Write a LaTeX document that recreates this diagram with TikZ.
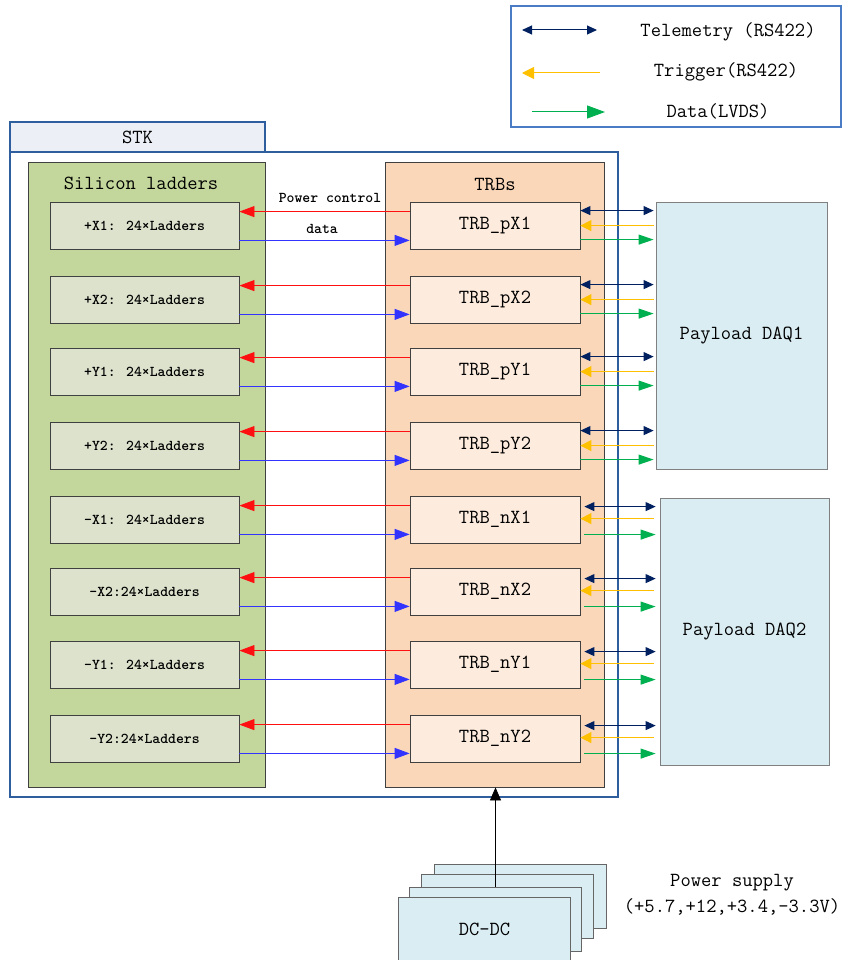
\documentclass[tikz,border=0pt]{standalone}
\usepackage{fontspec}
\usetikzlibrary{arrows.meta,calc}
\definecolor{stkblue}{HTML}{2E5E9E}
\definecolor{legblue}{HTML}{4A7CC6}
\definecolor{tabfill}{HTML}{ECF0F6}
\definecolor{silfill}{HTML}{C3D69B}
\definecolor{ladfill}{HTML}{DCE2CC}
\definecolor{trbsfill}{HTML}{FAD7B9}
\definecolor{trbfill}{HTML}{FDEBDD}
\definecolor{daqfill}{HTML}{DAEDF3}
\definecolor{boxgray}{HTML}{404040}
\definecolor{navy}{HTML}{002060}
\definecolor{trigyellow}{HTML}{FFC000}
\definecolor{lvdsgreen}{HTML}{00B050}
\definecolor{datblue}{HTML}{3333FF}
\definecolor{pwrred}{HTML}{FF1010}
\begin{document}
\begin{tikzpicture}[x=1pt,y=-1pt,
  every node/.style={font=\ttfamily\fontsize{20}{24}\selectfont, inner sep=0pt},
  box/.style={draw=boxgray, line width=0.8pt},
  ladder/.style={box, fill=ladfill, minimum width=189pt, minimum height=47pt,
     font=\ttfamily\bfseries\fontsize{15}{18}\selectfont},
  trb/.style={box, fill=trbfill, minimum width=170pt, minimum height=47pt},
  daq/.style={draw=gray, line width=0.8pt, fill=daqfill},
  dcbox/.style={draw=boxgray!80, line width=0.8pt, fill=daqfill, minimum width=172pt, minimum height=64pt},
  pwr/.style={draw=pwrred, line width=0.8pt, -{Triangle[length=15pt,width=11pt]}},
  dat/.style={draw=datblue, line width=0.8pt, -{Triangle[length=15pt,width=11pt]}},
  tele/.style={draw=navy, line width=1pt, {Triangle[length=10pt,width=9pt]}-{Triangle[length=10pt,width=9pt]}},
  trig/.style={draw=trigyellow, line width=1pt, -{Triangle[length=11pt,width=11pt]}},
  lvds/.style={draw=lvdsgreen, line width=1pt, -{Triangle[length=15pt,width=10pt]}},
  small/.style={font=\ttfamily\bfseries\fontsize{15}{18}\selectfont}
]
\useasboundingbox (0,0) rectangle (843,960);

% legend
\draw[legblue, line width=2.5pt] (511,6) rectangle (841,127);
\coordinate (lt1) at (522,30); \coordinate (lt2) at (597,30);
\draw[tele] (lt1) -- (lt2);
\node (legtele) at (728,32) {Telemetry (RS422)};
\coordinate (lg1) at (600,73); \coordinate (lg2) at (522,73);
\draw[trig, -{Triangle[length=12pt,width=12pt]}] (lg1) -- (lg2);
\node (legtrig) at (726,72) {Trigger(RS422)};
\coordinate (ld1) at (532,112); \coordinate (ld2) at (605,112);
\draw[lvds, -{Triangle[length=18pt,width=13pt]}] (ld1) -- (ld2);
\node (legdata) at (718,111) {Data(LVDS)};

% STK
\node[draw=stkblue, line width=1.3pt, fill=tabfill, minimum width=255pt, minimum height=30pt] (stktab) at (137.5,137) {STK};
\node[draw=stkblue, line width=1.3pt, minimum width=608pt, minimum height=645pt] (stk) at (314,474.5) {};
\node[box, fill=silfill, minimum width=237pt, minimum height=625pt] (sil) at (146.5,474.5) {};
\node (siltitle) at (141,183) {Silicon ladders};
\node[box, fill=trbsfill, minimum width=219pt, minimum height=625pt] (trbs) at (494.5,474.5) {};
\node (trbstitle) at (495,185) {TRBs};

% payload DAQ
\node[daq, minimum width=171pt, minimum height=267pt] (D1) at (741.5,335.5) {Payload DAQ1};
\node[daq, minimum width=169pt, minimum height=267pt] (D2) at (744.5,631.5) {Payload DAQ2};

% rows
\foreach \i/\top/\lt/\tn in {1/202/{+X1: 24×Ladders}/pX1, 2/276/{+X2: 24×Ladders}/pX2,
   3/348/{+Y1: 24×Ladders}/pY1, 4/422/{+Y2: 24×Ladders}/pY2,
   5/496/{-X1: 24×Ladders}/nX1, 6/568/{-X2:24×Ladders}/nX2,
   7/641/{-Y1: 24×Ladders}/nY1, 8/715/{-Y2:24×Ladders}/nY2} {
  \node[ladder] (L\i) at (144.5,\top+23.5) {\lt};
  \node[trb] (T\i) at (495,\top+23.5) {TRB\_\tn};
  \draw[pwr] ([yshift=-10pt]T\i.north west) -- ([yshift=-10pt]L\i.north east);
  \draw[dat] ([yshift=9pt]L\i.south east) -- ([yshift=9pt]T\i.south west);
}
\foreach \i in {1,2,3,4} {
  \draw[tele] ([yshift=-9pt]T\i.north east) -- ([yshift=-9pt,xshift=-2pt]T\i.north east -| D1.west);
  \draw[trig] ([yshift=-24pt,xshift=-2pt]T\i.north east -| D1.west) -- ([yshift=-24pt]T\i.north east);
  \draw[lvds] ([yshift=-38pt]T\i.north east) -- ([yshift=-38pt,xshift=-2pt]T\i.north east -| D1.west);
}
\foreach \i in {5,6,7,8} {
  \draw[tele] ([yshift=-11pt,xshift=4pt]T\i.north east) -- ([yshift=-11pt,xshift=-4pt]T\i.north east -| D2.west);
  \draw[trig] ([yshift=-23pt,xshift=-6pt]T\i.north east -| D2.west) -- ([yshift=-23pt]T\i.north east);
  \draw[lvds] ([yshift=-39pt,xshift=4pt]T\i.north east) -- ([yshift=-39pt,xshift=-4pt]T\i.north east -| D2.west);
}
\node (plabel) at (330,198) [small] {Power control};
\node (dlabel) at (322,229) [small] {data};

% DC-DC stack
\node[dcbox] (dc4) at (520.5,896) {};
\node[dcbox] (dc3) at (507,906.5) {};
\node[dcbox] (dc2) at (495.5,919) {};
\node[dcbox] (dc1) at (484.5,929) {DC-DC};
\draw[black, line width=0.8pt, -{Triangle[length=13pt,width=11pt]}] (dc2.north) -- (dc2.north |- trbs.south);
\node (ps1) at (732,883) {Power supply};
\node (ps2) at (732,907) {(+5.7,+12,+3.4,-3.3V)};
\end{tikzpicture}
\end{document}
